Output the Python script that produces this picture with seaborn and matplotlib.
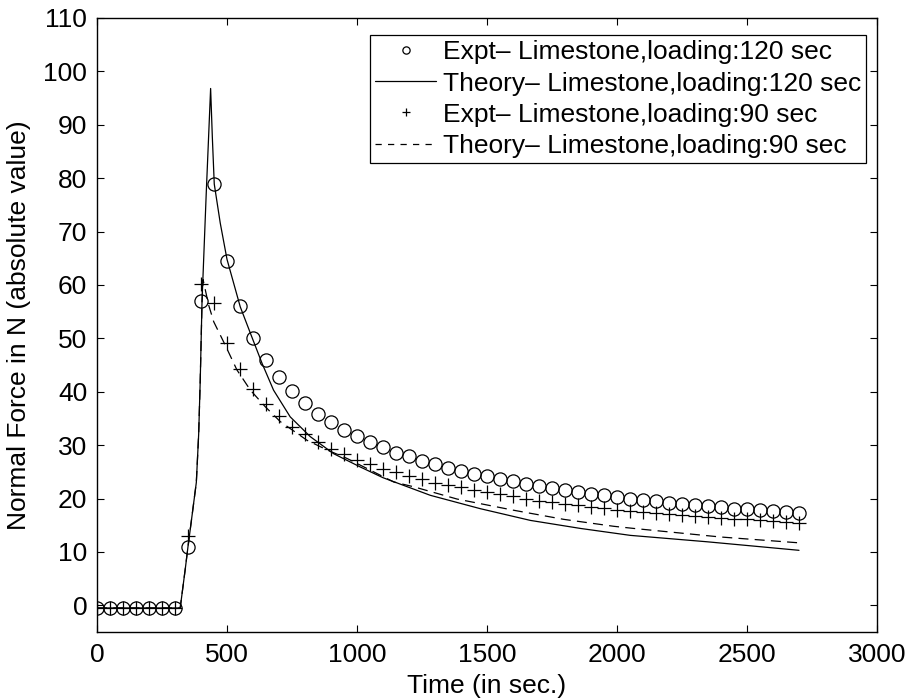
import pandas as pd
import matplotlib
matplotlib.use('Agg')
import matplotlib.pyplot as plt
import seaborn as sns

# Experimental points (sampled every 50 s)
expt_time = list(range(0, 2701, 50))
expt_120 = [-0.5, -0.5, -0.5, -0.5, -0.5, -0.5, -0.5,
            11, 57, 79, 64.5, 56, 50.1, 45.9, 42.8, 40.1, 37.8,
            35.9, 34.4, 32.9, 31.7, 30.6, 29.7, 28.6, 27.9, 27.1, 26.4,
            25.7, 25.2, 24.6, 24.2, 23.6, 23.25, 22.8, 22.4, 22.0, 21.6,
            21.2, 20.9, 20.6, 20.3, 20.0, 19.75, 19.5, 19.2, 19.0, 18.8,
            18.6, 18.4, 18.1, 18.0, 17.8, 17.6, 17.4, 17.3]
expt_90 = [-0.5, -0.5, -0.5, -0.5, -0.5, -0.5, -0.5,
           13, 60.1, 56.6, 49.2, 44.2, 40.6, 37.7, 35.5, 33.4, 32.0,
           30.5, 29.2, 28.3, 27.3, 26.4, 25.5, 24.9, 24.25, 23.6, 23.0,
           22.5, 22.1, 21.6, 21.2, 20.8, 20.4, 20.0, 19.6, 19.3, 19.0,
           18.7, 18.4, 18.2, 17.9, 17.7, 17.4, 17.25, 17.1, 16.9, 16.7,
           16.5, 16.4, 16.2, 16.1, 15.9, 15.8, 15.6, 15.5]

# Theory curves
theory_120_t = [0, 320, 340, 350, 365, 382, 391, 397, 404, 420, 437, 443.5, 451,
                474, 500, 551, 596, 635, 679, 743, 820, 910, 1013, 1100,
                1282, 1474, 1667, 1859, 2051, 2346, 2700]
theory_120 = [-0.5, -0.5, 7, 11, 16.6, 23, 32, 42, 57, 77, 96.8, 87.8, 78.9,
              71.6, 64.8, 55.9, 50.2, 45.3, 40.3, 35.3, 31.6, 28.4, 25.9, 23.9,
              20.6, 18.1, 15.9, 14.4, 13.1, 11.9, 10.3]
theory_90_t = [0, 320, 340, 350, 365, 382, 391, 397, 404, 408, 429, 449, 493,
               538, 590, 647, 705, 808, 885, 962, 1141, 1218, 1385, 1603,
               1795, 1987, 2064, 2397, 2700]
theory_90 = [-0.5, -0.5, 7, 11, 16.6, 23, 32, 42, 57, 61, 56.3, 53.1, 48.75,
             44.1, 40.3, 37.2, 34.4, 30.9, 29.1, 27.5, 23.1, 22.2, 19.9, 17.8,
             16.1, 14.8, 14.4, 12.8, 11.7]

label_e120 = 'Expt\u2013 Limestone,loading:120 sec'
label_t120 = 'Theory\u2013 Limestone,loading:120 sec'
label_e90 = 'Expt\u2013 Limestone,loading:90 sec'
label_t90 = 'Theory\u2013 Limestone,loading:90 sec'

sns.set_style('ticks')
plt.rcParams['font.family'] = ['Liberation Sans', 'DejaVu Sans']
plt.rcParams['font.size'] = 19
for key in ['text.color', 'axes.labelcolor', 'xtick.color', 'ytick.color']:
    plt.rcParams[key] = 'k'

df_e = pd.DataFrame({'t': expt_time, 'f120': expt_120, 'f90': expt_90})
df_t120 = pd.DataFrame({'t': theory_120_t, 'f': theory_120})
df_t90 = pd.DataFrame({'t': theory_90_t, 'f': theory_90})

fig = plt.figure(figsize=(9.09, 6.98), dpi=100)
ax = fig.add_axes([97 / 909, 1 - 632 / 698, 780 / 909, 614 / 698])

sns.lineplot(data=df_e, x='t', y='f120', ax=ax, color='k', linestyle='none',
             marker='o', markersize=9.5, markerfacecolor='none',
             markeredgecolor='k', markeredgewidth=0.9, label=label_e120)
sns.lineplot(data=df_t120, x='t', y='f', ax=ax, color='k', linewidth=0.9,
             label=label_t120)
sns.lineplot(data=df_e, x='t', y='f90', ax=ax, color='k', linestyle='none',
             marker='+', markersize=10, markeredgewidth=0.9,
             markeredgecolor='k', label=label_e90)
sns.lineplot(data=df_t90, x='t', y='f', ax=ax, color='k', linewidth=0.9,
             label=label_t90)
ax.lines[-1].set_dashes([8, 5])

ax.set_xlim(0, 3000)
ax.set_ylim(-5, 110)
ax.set_xticks(range(0, 3001, 500))
ax.set_yticks(range(0, 111, 10))
ax.tick_params(direction='in', length=5, width=0.8, top=True, right=True,
               labelsize=19, color='k', labelcolor='k')
ax.tick_params(axis='y', pad=7)
ax.tick_params(axis='x', pad=8)
for sp in ax.spines.values():
    sp.set_visible(True)
    sp.set_linewidth(1.0)
    sp.set_color('k')

ax.set_xlabel('Time (in sec.)', fontsize=19, labelpad=5)
ax.set_ylabel('Normal Force in N (absolute value)', fontsize=19, labelpad=9)

leg = ax.legend(loc='upper right', bbox_to_anchor=(0.986, 0.972),
                fontsize=19, frameon=True, fancybox=False, framealpha=1,
                edgecolor='k', markerscale=0.55, handlelength=2.3,
                handletextpad=0.25, labelspacing=0.27, borderpad=0.2,
                borderaxespad=0)
leg.get_frame().set_linewidth(0.9)
# the dashed handle in the legend
leg.get_lines()[-1].set_dashes([5, 5])

fig.savefig('out.png', dpi=100)
